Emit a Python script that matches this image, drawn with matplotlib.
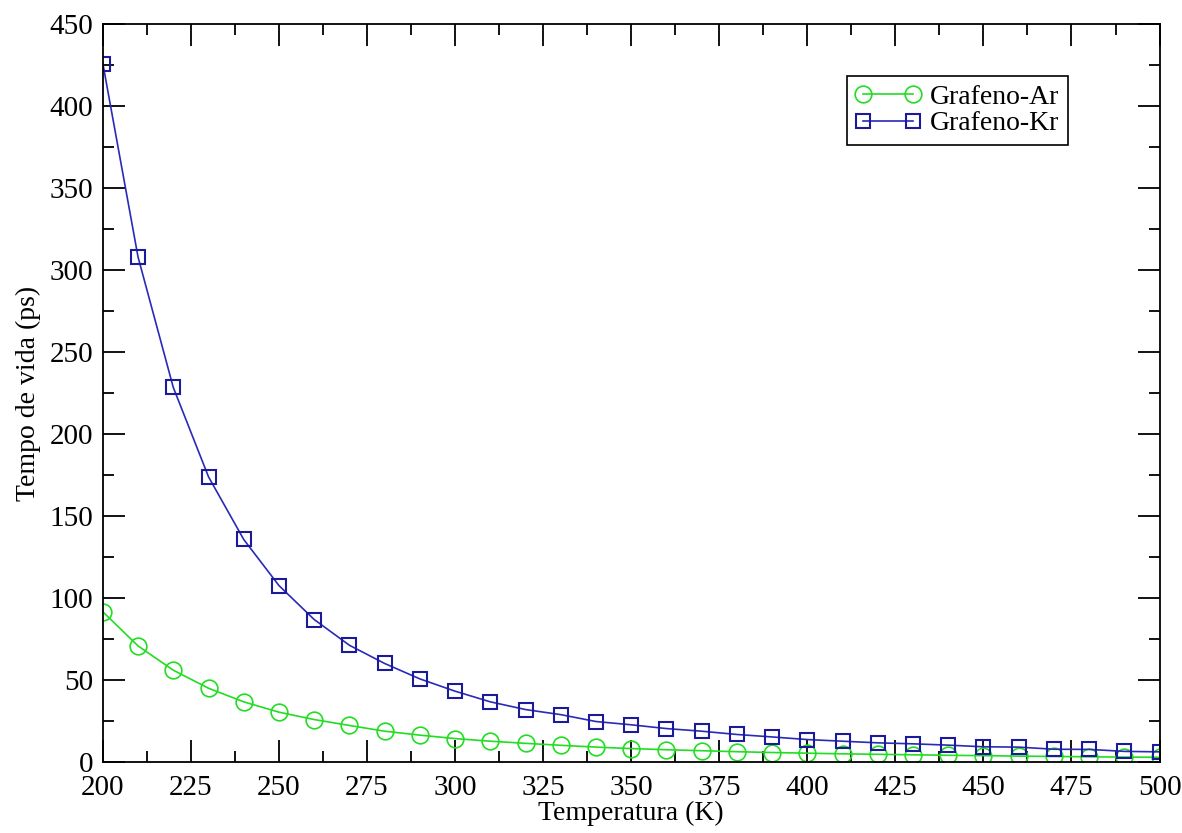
import numpy as np
import matplotlib.pyplot as plt
from matplotlib.ticker import MultipleLocator

plt.rcParams['font.family'] = ['Liberation Serif', 'DejaVu Serif']

# Temperature points (K)
temps = np.arange(200, 501, 10)

# Lifetime (ps)
ar_vals = [91.7, 70.9, 56.1, 45.1, 36.8, 30.5, 26.0, 22.4, 18.9, 16.5,
           14.4, 12.8, 11.5, 10.3, 9.2, 8.3, 7.6, 7.0, 6.4, 5.9,
           5.5, 5.1, 4.8, 4.5, 4.2, 4.0, 3.7, 3.5, 3.3, 3.1, 3.0]
kr_vals = [426, 308, 228.5, 174, 135.8, 107.7, 87.0, 71.3, 60.2, 50.8,
           43.3, 36.8, 32.1, 29.0, 24.8, 22.8, 20.5, 18.9, 16.9, 15.4,
           13.8, 12.8, 11.8, 11.2, 10.4, 9.4, 9.2, 7.9, 7.8, 6.6, 6.3]

fig = plt.figure(figsize=(11.82, 8.33), dpi=100)
ax = fig.add_axes([0.087, 0.085, 0.894, 0.886])

ax.plot(temps, ar_vals, color='#22dd22', lw=1.2, marker='o', ms=12,
        mfc='none', mec='#22dd22', mew=1.2, label='Grafeno-Ar')
ax.plot(temps, kr_vals, color='#2a2ab8', lw=1.2, marker='s', ms=10.5,
        mfc='none', mec='#1a1a9a', mew=1.5, label='Grafeno-Kr')

ax.set_xlim(200, 500)
ax.set_ylim(0, 450)
ax.xaxis.set_major_locator(MultipleLocator(25))
ax.xaxis.set_minor_locator(MultipleLocator(12.5))
ax.yaxis.set_major_locator(MultipleLocator(50))
ax.yaxis.set_minor_locator(MultipleLocator(25))
ax.tick_params(which='both', direction='in', top=True, right=True, width=1.3)
ax.tick_params(which='major', length=16, labelsize=21)
ax.tick_params(axis='x', which='major', pad=9)
ax.tick_params(axis='y', which='major', pad=7)
ax.tick_params(which='minor', length=8)
for s in ax.spines.values():
    s.set_linewidth(1.3)

ax.set_xlabel('Temperatura (K)', fontsize=20, labelpad=0)
ax.set_ylabel('Tempo de vida (ps)', fontsize=20, labelpad=6)

leg = ax.legend(loc='upper right', bbox_to_anchor=(0.913, 0.93), fontsize=20,
                fancybox=False, edgecolor='black', framealpha=1, numpoints=2,
                handlelength=2.4, borderpad=0.3, labelspacing=0.05,
                handletextpad=0.3, borderaxespad=0)
leg.get_frame().set_linewidth(1.2)

fig.savefig('out.png', dpi=100)
